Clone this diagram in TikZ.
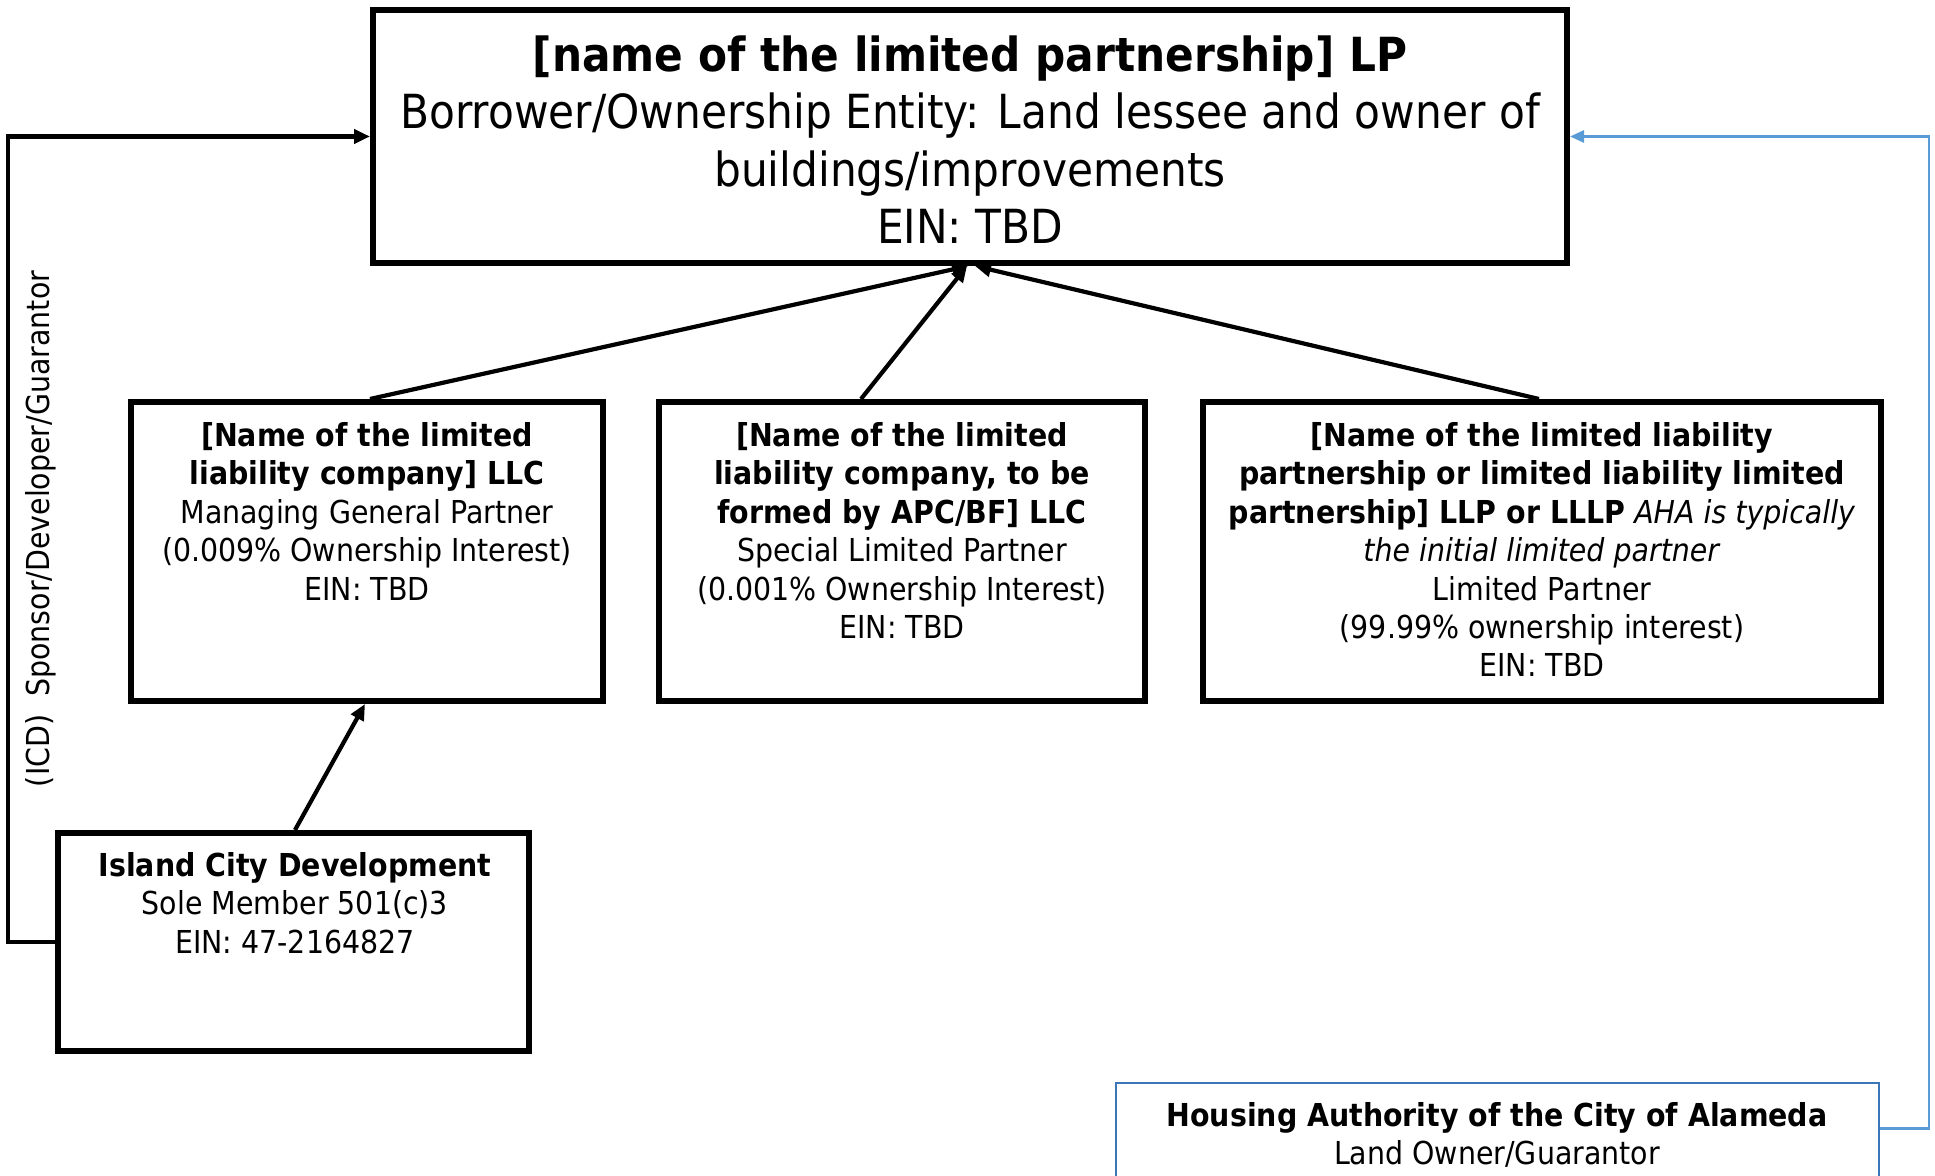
\documentclass[tikz,border=0pt]{standalone}
\usepackage{fontspec}
\setmainfont{DejaVu Sans}[FakeStretch=0.9]
\usetikzlibrary{arrows.meta,calc}
\definecolor{bluelink}{RGB}{91,155,213}
\definecolor{haborder}{RGB}{58,118,184}
\newcommand\topfnt{\fontsize{23.5}{28.8}\selectfont}
\newcommand\smfnt{\fontsize{15.8}{19.2}\selectfont}
\begin{document}
\begin{tikzpicture}[x=0.5pt,y=-0.5pt,
  ent/.style={draw=black,line width=3pt,rectangle,inner sep=0pt},
  txt/.style={anchor=north,inner sep=0pt,align=center,font=\smfnt},
  conn/.style={line width=2.1pt,-{Triangle[length=8pt,width=7pt]}},
  bconn/.style={draw=bluelink,line width=1.4pt,-{Triangle[length=7pt,width=6pt]}}]
\clip (0,0) rectangle (1935,1176);
\fill[white] (0,0) rectangle (1935,1176);
% boxes
\node[ent,minimum width=597pt,minimum height=126.5pt] (lp) at (970,136.5) {};
\node[ent,minimum width=236pt,minimum height=149.5pt] (mgp) at (367,551.5) {};
\node[ent,minimum width=243pt,minimum height=149.5pt] (slp) at (902,551.5) {};
\node[ent,minimum width=339pt,minimum height=149.5pt] (lpc) at (1542,551.5) {};
\node[ent,minimum width=235.5pt,minimum height=109pt] (icd) at (293.5,942) {};
\node[draw=haborder,line width=0.9pt,rectangle,inner sep=0pt,minimum width=381.5pt,minimum height=100pt] (ha) at (1497.5,1183) {};
% texts
\node[txt,font=\topfnt] (lptxt) at (970,35) {\textbf{[name of the limited partnership] LP}\\Borrower/Ownership Entity: Land lessee and owner of\\buildings/improvements\\EIN: TBD};
\node[txt] (mgptxt) at (367,422) {\textbf{[Name of the limited}\\\textbf{liability company] LLC}\\Managing General Partner\\(0.009\% Ownership Interest)\\EIN: TBD};
\node[txt] (slptxt) at (902,422) {\textbf{[Name of the limited}\\\textbf{liability company, to be}\\\textbf{formed by APC/BF] LLC}\\Special Limited Partner\\(0.001\% Ownership Interest)\\EIN: TBD};
\node[txt] (lpctxt) at (1542,422) {\textbf{[Name of the limited liability}\\\textbf{partnership or limited liability limited}\\\textbf{partnership] LLP or LLLP} \textit{AHA is typically}\\\textit{the initial limited partner}\\Limited Partner\\(99.99\% ownership interest)\\EIN: TBD};
\node[txt] (icdtxt) at (295,852) {\textbf{Island City Development}\\Sole Member 501(c)3\\EIN: 47-2164827};
\node[txt] (hatxt) at (1497,1102) {\textbf{Housing Authority of the City of Alameda}\\Land Owner/Guarantor};
\node[inner sep=0pt,rotate=90,font=\smfnt] (side) at (41,529) {(ICD)\ \ Sponsor/Developer/Guarantor};
% connectors
\draw[conn] ($(mgp.north)+(3,0)$) -- ($(lp.south)+(-2,0)$);
\draw[conn] ($(slp.north)+(-41,0)$) -- ($(lp.south)+(-3,0)$);
\draw[conn] ($(lpc.north)+(-3,0)$) -- ($(lp.south)+(5,0)$);
\draw[conn] ($(icd.north)+(1.5,0)$) -- ($(mgp.south)+(-2,0)$);
\draw[conn] (icd.west) -- ++(-47,0) |- (lp.west);
\draw[bconn] ($(ha.north east)+(0,46)$) -- ++(49,0) |- (lp.east);
\end{tikzpicture}
\end{document}
